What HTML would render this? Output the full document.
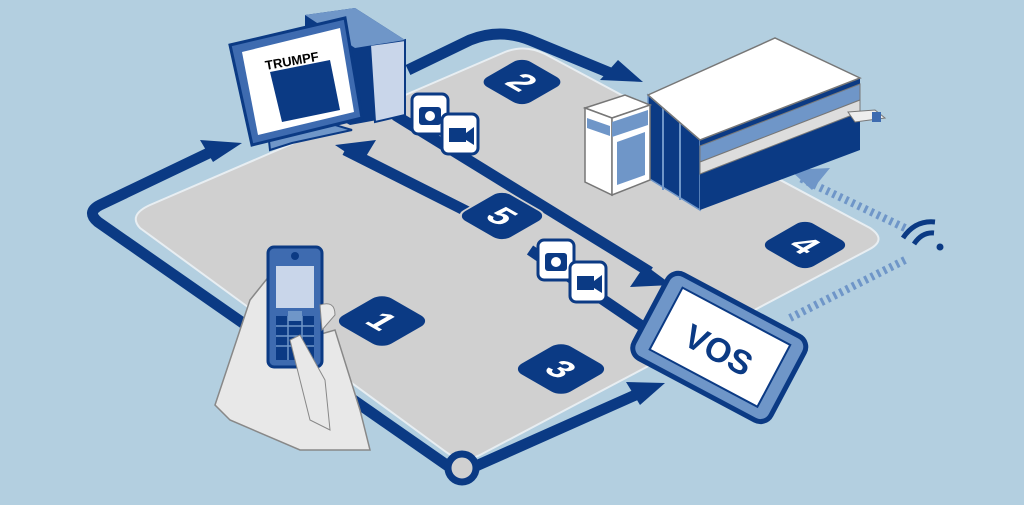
<!DOCTYPE html>
<html><head><style>body{margin:0;width:1024px;height:500px;overflow:hidden;background:#b3cfe0}</style></head><body>
<svg width="1024" height="500" viewBox="0 0 1024 500" xmlns="http://www.w3.org/2000/svg" font-family="Liberation Sans, sans-serif">
<rect width="1024" height="500" fill="#b3cfe0"/>
<!-- floor -->
<path d="M150,205 L505,52 Q525,44 545,54 L870,228 Q888,240 868,250 L480,455 Q462,464 446,452 L140,228 Q128,215 150,205 Z" fill="#d0d0d0" stroke="#e8eef2" stroke-width="2"/>
<!-- loop path -->
<g fill="none" stroke="#0b3a84" stroke-width="11" stroke-linejoin="round">
<path d="M448,466 L98,222 Q86,212 100,205 L215,150"/>
<path d="M476,466 L640,393"/>
<path d="M408,70 L470,40 Q500,28 530,40 L615,75"/>
<path d="M345,150 L480,218"/>
<path d="M395,115 L650,272"/>
<path d="M530,250 L655,335"/>
</g>
<circle cx="462" cy="468" r="14" fill="#d0d0d0" stroke="#0b3a84" stroke-width="7"/>
<g fill="#0b3a84">
<polygon points="242,143 200,140 213,162"/>
<polygon points="665,383 626,382 640,405"/>
<polygon points="643,82 600,80 618,60"/>
<polygon points="335,145 376,140 362,163"/>
<polygon points="672,285 630,287 645,265"/>
</g>
<!-- dashed wifi lines -->
<g stroke="#6f96c8">
<path d="M905,228 L800,178" stroke-dasharray="3,4" stroke-width="8"/>
<path d="M905,260 L790,318" stroke-dasharray="3,4" stroke-width="8"/>
</g>
<polygon points="790,170 830,168 812,190" fill="#6f96c8"/>
<g fill="none" stroke="#0b3a84" stroke-width="5">
<path d="M903,238 Q915,220 935,222"/>
<path d="M914,244 Q922,232 934,233"/>
</g>
<circle cx="940" cy="247" r="3.5" fill="#0b3a84"/>
<!-- number tiles (isometric) -->
<g fill="#0b3a84">
<rect x="-25" y="-25" width="50" height="50" rx="10" transform="matrix(0.87,0.5,-0.87,0.5,522,82)"/>
<rect x="-26" y="-26" width="52" height="52" rx="10" transform="matrix(0.87,0.5,-0.87,0.5,805,245)"/>
<rect x="-27" y="-27" width="54" height="54" rx="11" transform="matrix(0.87,0.5,-0.87,0.5,502,216)" stroke="#d0d0d0" stroke-width="2"/>
<rect x="-28" y="-28" width="56" height="56" rx="11" transform="matrix(0.87,0.5,-0.87,0.5,382,321)"/>
<rect x="-28" y="-28" width="56" height="56" rx="11" transform="matrix(0.87,0.5,-0.87,0.5,561,369)"/>
</g>
<g fill="#fff" font-weight="bold" font-size="34" text-anchor="middle">
<text transform="matrix(0.87,0.5,-0.87,0.5,522,82)" y="12">2</text>
<text transform="matrix(0.87,0.5,-0.87,0.5,805,245)" y="12">4</text>
<text transform="matrix(0.87,0.5,-0.87,0.5,502,216)" y="12">5</text>
<text transform="matrix(0.87,0.5,-0.87,0.5,382,321)" y="12">1</text>
<text transform="matrix(0.87,0.5,-0.87,0.5,561,369)" y="12">3</text>
</g>
<!-- icons -->
<g stroke="#0b3a84" stroke-width="3" fill="#fff">
<rect x="412" y="94" width="36" height="40" rx="6"/>
<rect x="442" y="114" width="36" height="40" rx="6"/>
<rect x="538" y="240" width="36" height="40" rx="6"/>
<rect x="570" y="262" width="36" height="40" rx="6"/>
</g>
<g fill="#0b3a84">
<rect x="419" y="107" width="22" height="18" rx="3"/>
<rect x="449" y="128" width="17" height="14"/><polygon points="466,133 474,127 474,145 466,140"/>
<rect x="545" y="253" width="22" height="18" rx="3"/>
<rect x="577" y="276" width="17" height="14"/><polygon points="594,281 602,275 602,293 594,288"/>
</g>
<circle cx="430" cy="116" r="5" fill="#fff"/><circle cx="556" cy="262" r="5" fill="#fff"/>
<!-- PC tower -->
<polygon points="305,15 355,8 405,40 405,115 350,125 305,100" fill="#0b3a84"/>
<polygon points="370,45 405,40 405,115 375,122" fill="#c9d6ea" stroke="#0b3a84" stroke-width="2"/>
<polygon points="305,15 355,8 405,40 355,48" fill="#6f96c8"/>
<!-- monitor -->
<polygon points="268,132 325,122 352,130 292,143 270,150" fill="#6f96c8" stroke="#0b3a84" stroke-width="2"/>
<rect x="290" y="118" width="20" height="16" fill="#6f96c8"/>
<polygon points="230,45 345,18 362,118 252,145" fill="#3e6bb0" stroke="#0b3a84" stroke-width="3"/>
<polygon points="242,52 340,28 354,112 258,135" fill="#fff"/>
<polygon points="270,72 330,60 340,110 282,122" fill="#0b3a84"/>
<text x="266" y="70" font-size="13" font-weight="bold" fill="#000" transform="rotate(-10 266 70)">TRUMPF</text>
<!-- machine -->
<polygon points="648,95 700,140 700,210 648,178" fill="#0b3a84" stroke="#6f96c8" stroke-width="1.5"/>
<path d="M663,108V190M680,122V200" stroke="#6f96c8" stroke-width="2"/>
<polygon points="700,140 860,78 860,150 700,210" fill="#0b3a84"/>
<polygon points="700,146 860,84 860,100 700,162" fill="#6f96c8" stroke="#777"/>
<polygon points="700,162 860,100 860,112 700,174" fill="#ddd" stroke="#777"/>
<polygon points="648,95 775,38 860,78 700,140" fill="#fff" stroke="#777" stroke-width="1.5"/>
<polygon points="848,112 875,110 885,118 855,122" fill="#eee" stroke="#777"/>
<rect x="872" y="112" width="9" height="10" fill="#3e6bb0"/>
<polygon points="585,108 625,95 650,105 612,118" fill="#fff" stroke="#777" stroke-width="1.5"/>
<polygon points="585,108 612,118 612,195 585,182" fill="#fff" stroke="#777" stroke-width="1.5"/>
<polygon points="612,118 650,105 650,180 612,195" fill="#fff" stroke="#777" stroke-width="1.5"/>
<polygon points="587,118 610,126 610,136 587,128" fill="#6f96c8"/>
<polygon points="612,122 648,110 648,125 612,137" fill="#6f96c8"/>
<polygon points="617,142 645,132 645,175 617,185" fill="#6f96c8"/>
<!-- VOS tablet -->
<g transform="rotate(28 720 345)">
<rect x="643" y="300" width="155" height="95" rx="12" fill="#6f96c8" stroke="#0b3a84" stroke-width="5"/>
<rect x="660" y="312" width="122" height="70" fill="#fff" stroke="#0b3a84" stroke-width="2"/>
<text x="721" y="362" text-anchor="middle" font-size="34" font-weight="bold" fill="#0b3a84">VOS</text>
</g>
<!-- hand + phone -->
<path d="M215,405 L250,300 L270,275 L275,330 L300,340 L335,330 L360,410 L370,450 L300,450 L230,420 Z" fill="#e8e8e8" stroke="#888" stroke-width="1.5"/>
<rect x="268" y="247" width="54" height="120" rx="6" fill="#3e6bb0" stroke="#0b3a84" stroke-width="3"/>
<rect x="276" y="266" width="38" height="42" fill="#c9d6ea"/>
<circle cx="295" cy="256" r="4" fill="#0b3a84"/>
<g fill="#0b3a84"><rect x="276" y="316" width="38" height="44"/></g>
<g stroke="#6f96c8" stroke-width="1.5"><path d="M276,326H314M276,336H314M276,346H314M288,316V360M302,316V360"/></g>
<rect x="288" y="311" width="14" height="10" fill="#6f96c8"/>
<path d="M290,340 L310,420 L330,430 L325,380 L300,335 Z" fill="#e8e8e8" stroke="#888"/>
<path d="M320,305 Q335,300 335,315 L322,330 Z" fill="#e8e8e8" stroke="#888"/>
</svg>
</body></html>
